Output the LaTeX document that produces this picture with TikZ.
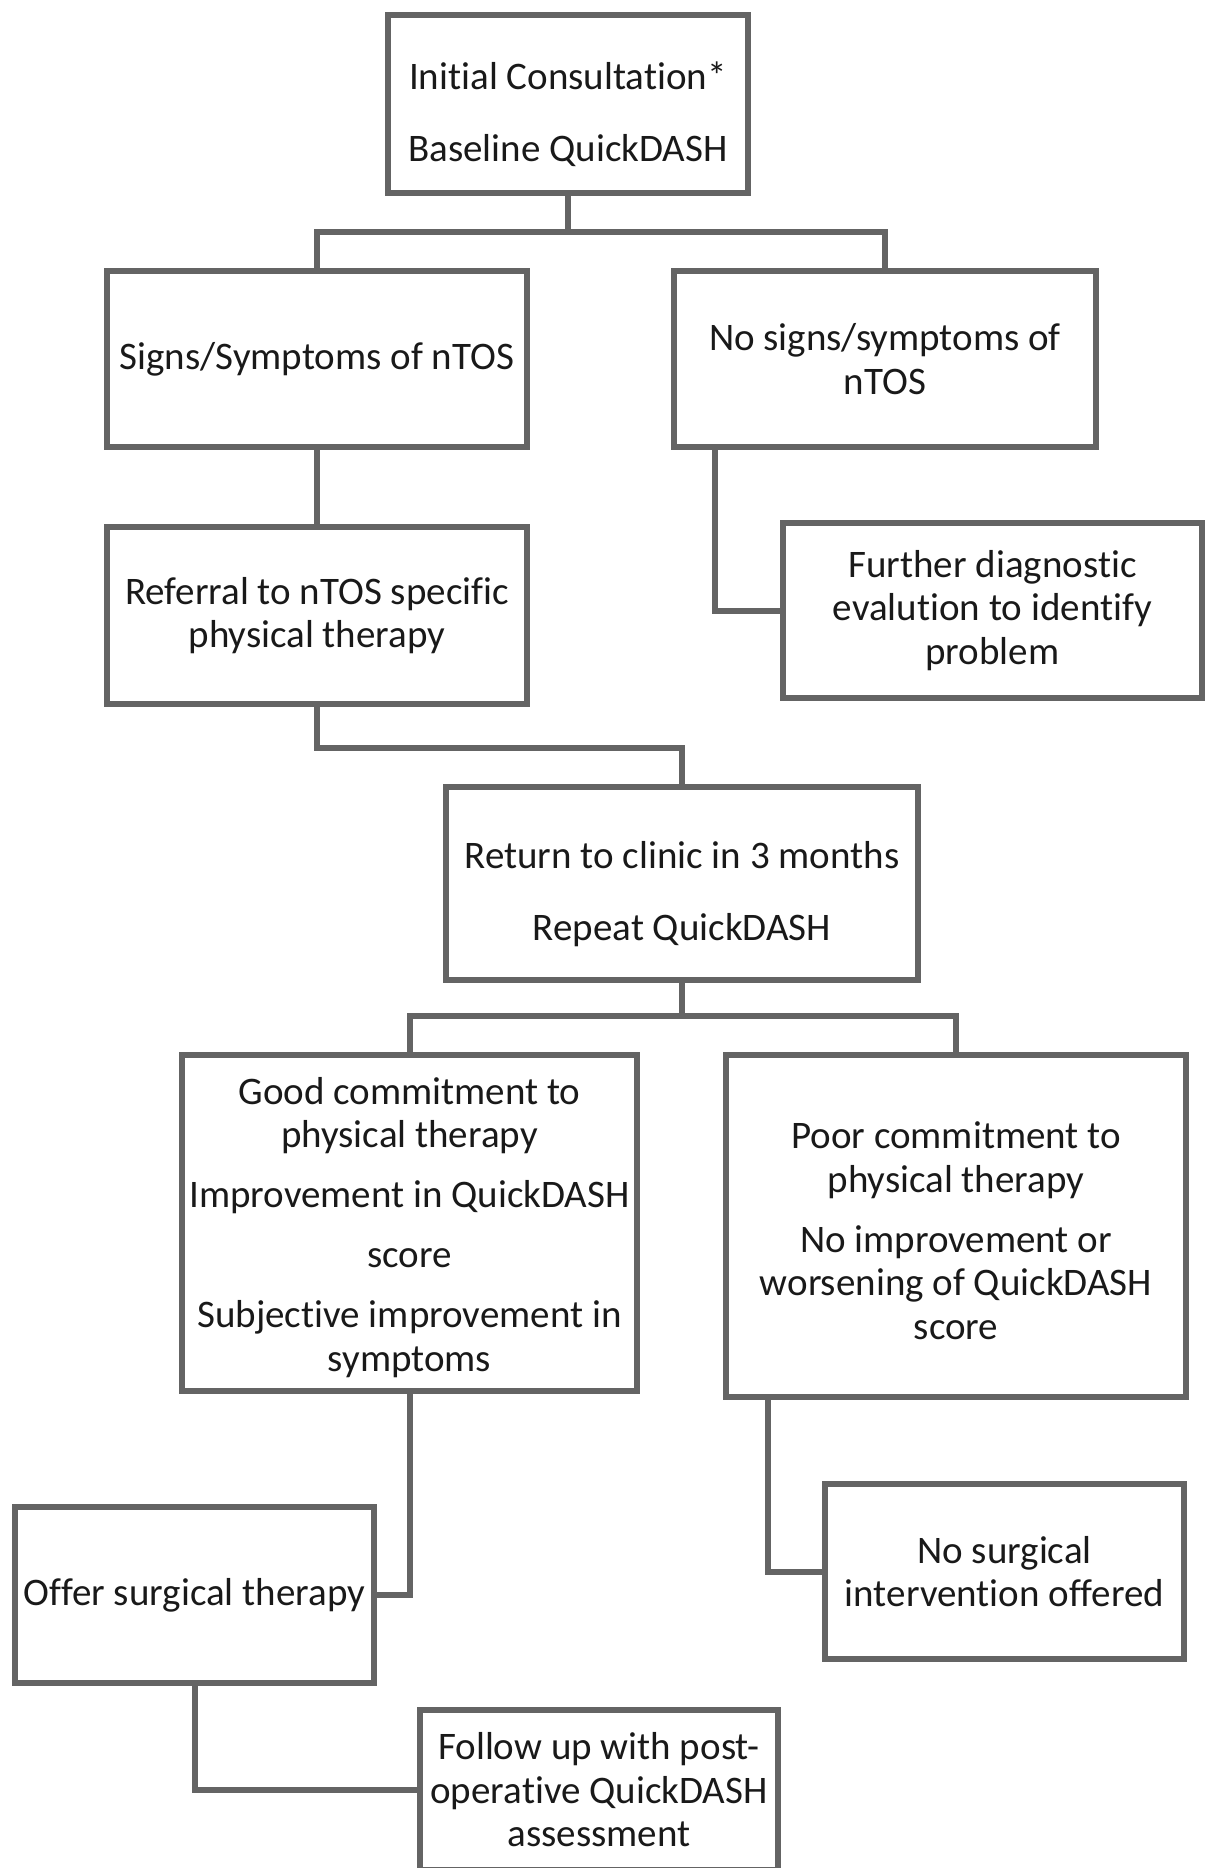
\documentclass[tikz,border=0pt]{standalone}
\usepackage{fontspec}
\setmainfont{Carlito}[Ligatures={NoCommon}]
\usepackage{xcolor}
\definecolor{mygri}{RGB}{100,100,100}
\definecolor{mytxt}{RGB}{25,25,25}
\usepackage{tikz}
\usetikzlibrary{positioning}
\tikzstyle{box} = [rectangle, draw=mygri, line width=3pt, inner sep=1pt, align=center, text=mytxt, font=\fontsize{19.5pt}{21.75pt}\selectfont]
\tikzstyle{link} = [line width=3pt, mygri]

\begin{document}
\begin{tikzpicture}[x=0.5pt,y=-0.5pt]
	\useasboundingbox (0,0) rectangle (1206,1868);
	\node (ini)[box, minimum width=180pt, minimum height=89pt] at (568,104) {\rule{0pt}{24pt}Initial Consultation*\\[14.25pt]Baseline QuickDASH};
	\node (signs)[box, minimum width=210pt, minimum height=88pt] at (317,359) {Signs/Symptoms of nTOS};
	\node (nosigns)[box, minimum width=211pt, minimum height=88pt] at (885,359) {No signs/symptoms of\\nTOS};
	\node (referral)[box, minimum width=210pt, minimum height=88.5pt] at (317,615.5) {Referral to nTOS specific\\physical therapy};
	\node (further)[box, minimum width=209.5pt, minimum height=87.5pt] at (992.5,610.5) {Further diagnostic\\evalution to identify\\problem};
	\node (ret)[box, minimum width=236pt, minimum height=96.5pt] at (682,883.5) {\rule{0pt}{24pt}Return to clinic in 3 months\\[14.25pt]Repeat QuickDASH};
	\node (good)[box, minimum width=227.5pt, minimum height=168pt] at (409.5,1223) {\rule{0pt}{18pt}Good commitment to\\physical therapy\\[8.25pt]Improvement in QuickDASH\\[8.25pt]score\\[8.25pt]Subjective improvement in\\symptoms};
	\node (poor)[box, minimum width=230pt, minimum height=171pt] at (956,1226) {\rule{0pt}{18pt}Poor commitment to\\physical therapy\\[8.25pt]No improvement or\\worsening of QuickDASH\\score};
	\node (offer)[box, minimum width=179.5pt, minimum height=88pt] at (194.5,1595) {Offer surgical therapy};
	\node (nosurg)[box, minimum width=179.5pt, minimum height=87.5pt] at (1004.5,1571.5) {No surgical\\intervention offered};
	\node (follow)[box, minimum width=179pt, minimum height=80pt] at (599,1790) {Follow up with post-\\operative QuickDASH\\assessment};
	\coordinate (j1) at (568,232);
	\coordinate (j2) at (317,748);
	\coordinate (j3) at (682,1016);
	\draw [link] (ini.south) -- (j1);
	\draw [link] (j1) -| (signs.north);
	\draw [link] (j1) -| (nosigns.north);
	\draw [link] (signs) -- (referral);
	\draw [link] ([xshift=22pt]nosigns.south west) |- (further.west);
	\draw [link] (referral.south) -- (j2) -| (ret.north);
	\draw [link] (ret.south) -- (j3);
	\draw [link] (j3) -| (good.north);
	\draw [link] (j3) -| (poor.north);
	\draw [link] (good.south) |- (offer.east);
	\draw [link] ([xshift=22.5pt]poor.south west) |- (nosurg.west);
	\draw [link] (offer.south) |- (follow.west);
\end{tikzpicture}
\end{document}
